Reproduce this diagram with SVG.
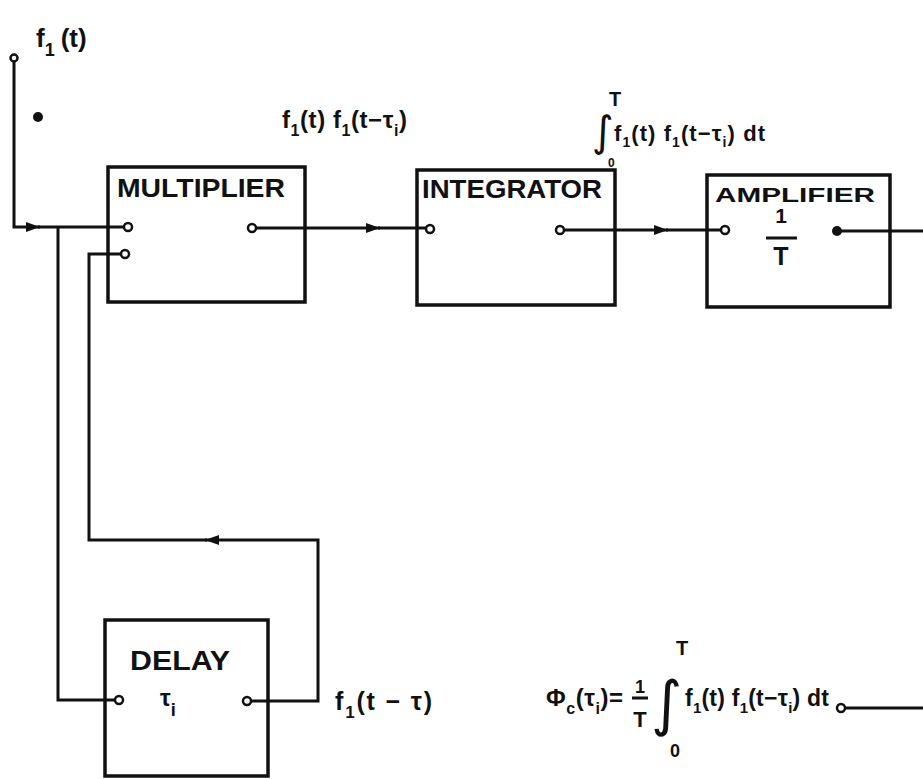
<svg xmlns="http://www.w3.org/2000/svg" width="923" height="779" viewBox="0 0 923 779">
<style>
.box{fill:none;stroke:#111;stroke-width:3.5}
.wire{fill:none;stroke:#111;stroke-width:3}
.port{fill:#fff;stroke:#111;stroke-width:2.5}
.dot{fill:#111}
.t{font-family:"Liberation Sans",Arial,sans-serif;font-weight:bold;fill:#111}
.int{font-family:"DejaVu Sans",sans-serif;fill:#111}
</style>
<defs>
<marker id="arr" viewBox="0 0 14 10" refX="14" refY="5" markerWidth="14" markerHeight="10" markerUnits="userSpaceOnUse" orient="auto">
<path d="M0,0 L14,5 L0,10 z" fill="#111"/>
</marker>
</defs>
<rect width="923" height="779" fill="#fff"/>

<g id="connectors">
<path class="wire" d="M14,62 V227 H40" marker-end="url(#arr)"/>
<path class="wire" d="M38,227 H124"/>
<path class="wire" d="M58,227 V700 H115"/>
<path class="wire" d="M251,701 H318 V540 H205" marker-end="url(#arr)"/>
<path class="wire" d="M207,540 H89 V254 H121"/>
<path class="wire" d="M256,228 H380" marker-end="url(#arr)"/>
<path class="wire" d="M378,228 H426"/>
<path class="wire" d="M564,230 H668" marker-end="url(#arr)"/>
<path class="wire" d="M666,230 H721"/>
<path class="wire" d="M837,231 H923"/>
<path class="wire" d="M845,708 H923"/>
</g>

<g id="input">
<circle class="port" cx="14" cy="58" r="3.5"/>
<circle class="dot" cx="38" cy="117" r="5"/>
<text class="t" x="36" y="47" font-size="26">f<tspan font-size="18" dy="9">1</tspan><tspan dy="-9" dx="6">(t)</tspan></text>
</g>

<g id="multiplier">
<rect class="box" x="108" y="167" width="197" height="135"/>
<text class="t" x="117" y="197" font-size="26" textLength="168" lengthAdjust="spacingAndGlyphs">MULTIPLIER</text>
<circle class="port" cx="128" cy="227" r="4"/>
<circle class="port" cx="125" cy="254" r="4"/>
<circle class="port" cx="252" cy="228" r="4"/>
</g>

<g id="product-label">
<text class="t" x="282" y="128" font-size="24" textLength="125">f<tspan font-size="16" dy="8">1</tspan><tspan dy="-8">(t) f</tspan><tspan font-size="16" dy="8">1</tspan><tspan dy="-8">(t−τ</tspan><tspan font-size="16" dy="8">i</tspan><tspan dy="-8">)</tspan></text>
</g>

<g id="integrator">
<rect class="box" x="417" y="170" width="198" height="135"/>
<text class="t" x="422" y="198" font-size="26" textLength="180" lengthAdjust="spacingAndGlyphs">INTEGRATOR</text>
<circle class="port" cx="430" cy="229" r="4"/>
<circle class="port" cx="560" cy="230" r="4"/>
</g>

<g id="integral-label">
<text class="int" x="592" y="146" font-size="42">∫</text>
<text class="t" x="609" y="106" font-size="20">T</text>
<text class="t" x="608" y="167" font-size="12">0</text>
<text class="t" x="614" y="141" font-size="22" textLength="151">f<tspan font-size="14" dy="6">1</tspan><tspan dy="-6">(t) f</tspan><tspan font-size="14" dy="6">1</tspan><tspan dy="-6">(t−τ</tspan><tspan font-size="14" dy="6">i</tspan><tspan dy="-6">) dt</tspan></text>
</g>

<g id="amplifier">
<rect class="box" x="707" y="175" width="183" height="132"/>
<text class="t" x="715" y="202" font-size="21" textLength="160" lengthAdjust="spacingAndGlyphs">AMPLIFIER</text>
<text class="t" x="781" y="223" font-size="21" text-anchor="middle">1</text>
<line class="wire" x1="766" y1="238" x2="797" y2="238"/>
<text class="t" x="781" y="265" font-size="25" text-anchor="middle">T</text>
<circle class="port" cx="725" cy="230" r="4"/>
<circle class="dot" cx="837" cy="231" r="5"/>
</g>

<g id="delay">
<rect class="box" x="105" y="620" width="163" height="156"/>
<text class="t" x="130" y="670" font-size="27" textLength="100" lengthAdjust="spacingAndGlyphs">DELAY</text>
<text class="t" x="160" y="706" font-size="24">τ<tspan font-size="18" dy="10">i</tspan></text>
<circle class="port" cx="119" cy="700" r="4"/>
<circle class="port" cx="247" cy="701" r="4"/>
</g>

<g id="delay-label">
<text class="t" x="335" y="710" font-size="25" textLength="97">f<tspan font-size="17" dy="8">1</tspan><tspan dy="-8">(t − τ)</tspan></text>
</g>

<g id="formula">
<text class="t" x="546" y="706" font-size="24" textLength="77">Φ<tspan font-size="16" dy="8">c</tspan><tspan dy="-8">(τ</tspan><tspan font-size="16" dy="8">i</tspan><tspan dy="-8">)=</tspan></text>
<text class="t" x="640" y="693" font-size="18" text-anchor="middle">1</text>
<line class="wire" x1="632" y1="698" x2="648" y2="698" stroke-width="2.5"/>
<text class="t" x="640" y="727" font-size="22" text-anchor="middle">T</text>
<text class="int" x="651" y="724" font-size="60">∫</text>
<text class="t" x="676" y="655" font-size="20">T</text>
<text class="t" x="670" y="757" font-size="18">0</text>
<text class="t" x="685" y="706" font-size="23" textLength="144">f<tspan font-size="15" dy="7">1</tspan><tspan dy="-7">(t) f</tspan><tspan font-size="15" dy="7">1</tspan><tspan dy="-7">(t−τ</tspan><tspan font-size="15" dy="7">i</tspan><tspan dy="-7">) dt</tspan></text>
<circle class="port" cx="841" cy="708" r="4"/>
</g>
</svg>
